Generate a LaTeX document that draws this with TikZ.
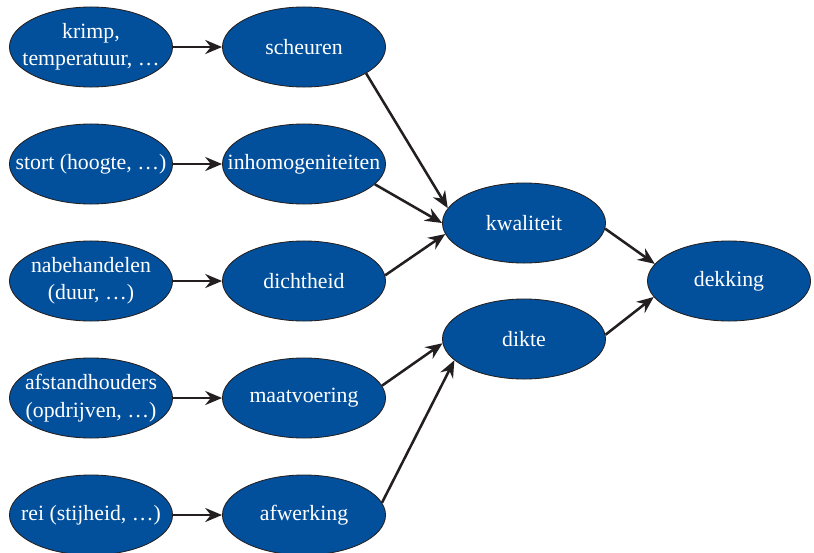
\documentclass[tikz,border=0pt]{standalone}
\usepackage{fontspec}
\setmainfont{Liberation Serif}
\usetikzlibrary{shapes.geometric}
\usetikzlibrary{arrows.meta}

\definecolor{rwsblue}{HTML}{02509C}
\definecolor{pijl}{HTML}{231F20}

\tikzset{
	factor/.style={ellipse, draw=pijl, line width=0.6pt, fill=rwsblue,
		inner sep=0pt, minimum width=4.075cm, minimum height=2cm,
		label={[text=white, align=center, font=\fontsize{15.5}{19.5}\selectfont]center:#1}},
	pijl/.style={draw=pijl, line width=1.8pt, -{Stealth[length=12pt, width=10pt, inset=4pt]}}
}

\begin{document}
\begin{tikzpicture}[x=0.025cm, y=-0.025cm]
	\useasboundingbox (0,0) rectangle (814,552);
	% oorzaken
	\node[factor={krimp,\\temperatuur, \dots}] (krimp) at (91, 47) {};
	\node[factor={stort (hoogte, \dots)}] (stort) at (91,164) {};
	\node[factor={nabehandelen\\(duur, \dots)}] (nabeh) at (91,281) {};
	\node[factor={afstandhouders\\(opdrijven, \dots)}] (afstand) at (91,398) {};
	\node[factor={rei (stijheid, \dots)}] (rei) at (91,515) {};
	% gevolgen
	\node[factor={scheuren}] (scheur) at (304, 47) {};
	\node[factor={inhomogeniteiten}] (inhom) at (304,164) {};
	\node[factor={dichtheid}] (dicht) at (304,281) {};
	\node[factor={maatvoering}] (maat) at (304,398) {};
	\node[factor={afwerking}] (afwerk) at (304,515) {};
	\node[factor={kwaliteit}] (kwal) at (524,223) {};
	\node[factor={dikte}] (dikte) at (524,339) {};
	\node[factor={dekking}] (dekking) at (729,281) {};
	% pijlen
	\draw[pijl] (krimp) -- (scheur);
	\draw[pijl] (stort) -- (inhom);
	\draw[pijl] (nabeh) -- (dicht);
	\draw[pijl] (afstand) -- (maat);
	\draw[pijl] (rei) -- (afwerk);
	\draw[pijl] (scheur.-23) -- (kwal.169);
	\draw[pijl] (inhom.-16) -- (kwal.180);
	\draw[pijl] (dicht.4) -- (kwal.-172);
	\draw[pijl] (maat.9) -- (dikte.-177);
	\draw[pijl] (afwerk.9) -- (dikte.-163);
	\draw[pijl] (kwal.-4) -- (dekking.167);
	\draw[pijl] (dikte.3) -- (dekking.-168);
\end{tikzpicture}
\end{document}
